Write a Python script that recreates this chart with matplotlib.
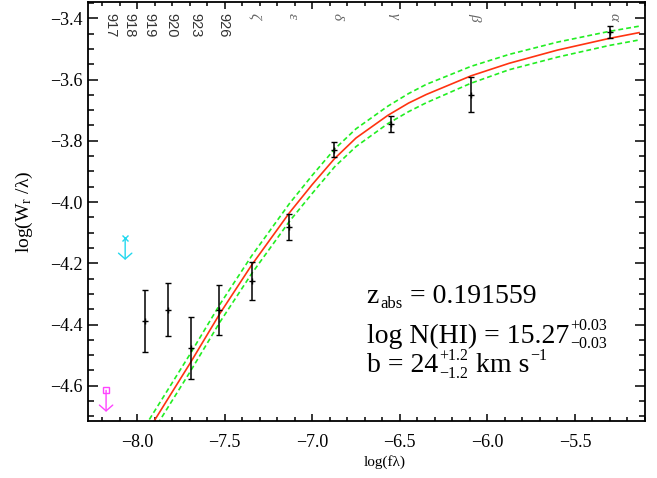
import matplotlib
matplotlib.use('Agg')
import matplotlib.pyplot as plt
import matplotlib.transforms as mtransforms
from matplotlib.ticker import MultipleLocator

plt.rcParams['font.family'] = 'Liberation Serif'
plt.rcParams['mathtext.fontset'] = 'custom'
plt.rcParams['mathtext.rm'] = 'Liberation Serif'
plt.rcParams['mathtext.it'] = 'Liberation Serif:italic'
plt.rcParams['lines.scale_dashes'] = False

# ---- measured Lyman lines: log(f lambda), log(W_r/lambda), 1 sigma ----
log_flam = [-7.954, -7.826, -7.690, -7.530, -7.346, -7.132, -6.877, -6.551, -6.093, -5.298]
log_w = [-4.388, -4.351, -4.478, -4.353, -4.258, -4.082, -3.829, -3.745, -3.649, -3.445]
log_w_err = [0.101, 0.088, 0.101, 0.082, 0.063, 0.042, 0.024, 0.026, 0.057, 0.020]

# ---- upper limits (917, 918) ----
lim_x = [-8.177, -8.068]
lim_y = [-4.615, -4.119]
lim_colors = ['#ff44ff', '#22d8ee']
lim_markers = ['s', 'x']

# ---- transitions marked along the top ----
line_x = [-8.177, -8.068, -7.954, -7.826, -7.690, -7.530,
          -7.346, -7.132, -6.877, -6.551, -6.093, -5.298]
line_labels = ['917', '918', '919', '920', '923', '926',
               'ζ', 'ε', 'δ', 'γ', 'β', 'α']

# ---- best-fit curve of growth and +/- 1 sigma ----
cog_x = [-7.93, -7.698, -7.527, -7.346, -7.130, -7.000, -6.872, -6.750,
         -6.568, -6.450, -6.349, -6.093, -5.875, -5.600, -5.305, -5.134]
cog_y = [-4.740, -4.527, -4.364, -4.206, -4.035, -3.943, -3.858, -3.791,
         -3.717, -3.677, -3.649, -3.588, -3.547, -3.504, -3.466, -3.447]
cog_hi = [-4.710, -4.497, -4.334, -4.176, -4.005, -3.913, -3.827, -3.761,
          -3.687, -3.646, -3.616, -3.557, -3.518, -3.478, -3.443, -3.426]
cog_lo = [-4.768, -4.555, -4.392, -4.234, -4.063, -3.972, -3.885, -3.819,
          -3.744, -3.705, -3.676, -3.612, -3.568, -3.527, -3.489, -3.471]

fig = plt.figure(figsize=(6.57, 4.78), dpi=100)
ax = fig.add_axes([0.134, 0.1192, 0.8477, 0.8766])

ax.plot(cog_x, cog_hi, color='#22ee22', lw=1.2, dashes=(3.5, 2.2))
ax.plot(cog_x, cog_lo, color='#22ee22', lw=1.2, dashes=(3.5, 2.2))
ax.plot(cog_x, cog_y, color='#ff3311', lw=1.2)

ax.errorbar(log_flam, log_w, yerr=log_w_err, fmt='+', color='black',
            ms=4, mew=1.0, elinewidth=1.1, capsize=2.5, capthick=1.1)

for x, y, c, m in zip(lim_x, lim_y, lim_colors, lim_markers):
    ax.plot(x, y, marker=m, color=c, ms=4.5, mfc='none', mew=1.0)
    ax.annotate('', xy=(x, y - 0.07), xytext=(x, y),
                arrowprops=dict(arrowstyle='->,head_length=0.35,head_width=0.4',
                                color=c, lw=1.0, shrinkA=0, shrinkB=0,
                                mutation_scale=12))

trans = ax.get_xaxis_transform() + mtransforms.ScaledTranslation(0, -7.7 / 72, fig.dpi_scale_trans)
for x, lab in zip(line_x, line_labels):
    if lab.isdigit():
        ax.text(x, 1, lab, transform=trans, rotation=-90, rotation_mode='anchor',
                ha='left', va='baseline', fontsize=10.5, color='#333333',
                family='Liberation Sans')
    else:
        ax.text(x, 1, lab, transform=trans, rotation=-90, rotation_mode='anchor',
                ha='left', va='baseline', fontsize=11, color='#666666',
                style='italic')

ax.set_xlim(-8.28, -5.10)
ax.set_ylim(-4.715, -3.347)
ax.xaxis.set_major_locator(MultipleLocator(0.5))
ax.xaxis.set_minor_locator(MultipleLocator(0.1))
ax.yaxis.set_major_locator(MultipleLocator(0.2))
ax.yaxis.set_minor_locator(MultipleLocator(0.05))
ax.tick_params(which='both', direction='in', top=True, right=True, width=1.1,
               labelsize=13)
ax.tick_params(axis='x', which='major', length=5, pad=9)
ax.tick_params(axis='x', which='minor', length=3)
ax.tick_params(axis='y', which='major', length=7.5, pad=4)
ax.tick_params(axis='y', which='minor', length=4)
for s in ax.spines.values():
    s.set_linewidth(1.3)

ax.set_xlabel('log(fλ)', fontsize=11)
ax.xaxis.set_label_coords(0.533, -0.098)
ax.xaxis.label.set_va('center')
ax.set_ylabel(r'log(W$_{\mathrm{r}}$ /λ)', fontsize=14)
ax.yaxis.set_label_coords(-0.115, 0.5)
ax.yaxis.label.set_va('center')

# fit parameters, written piece by piece so the scripts stay small
renderer = fig.canvas.get_renderer()
px = mtransforms.IdentityTransform()
pt = 100 / 72.0


def put_line(x_ax, y_ax, pieces):
    x0, y0 = ax.transAxes.transform((x_ax, y_ax))
    x = x0
    for group in pieces:
        right = x
        for s, size, dy in group:
            t = ax.text(x, y0 + dy * pt, s, transform=px, fontsize=size,
                        va='baseline', ha='left')
            right = max(right, t.get_window_extent(renderer).x1)
        x = right + 1


put_line(0.5004, 0.2816, [[('z', 20, 0)], [('abs', 12, -3.6)],
                          [(' = 0.191559', 20, 0)]])
put_line(0.5004, 0.1869, [[('log N(HI) = 15.27', 20, 0)],
                          [('+0.03', 11.5, 9.1), ('\u22120.03', 11.5, -4.1)]])
put_line(0.5004, 0.1177, [[('b = 24', 20, 0)],
                          [('+1.2', 11.5, 8.5), ('\u22121.2', 11.5, -4.3)],
                          [(' km s', 20, 0)], [('\u22121', 11.5, 8.5)]])

fig.savefig('out.png', dpi=100)
